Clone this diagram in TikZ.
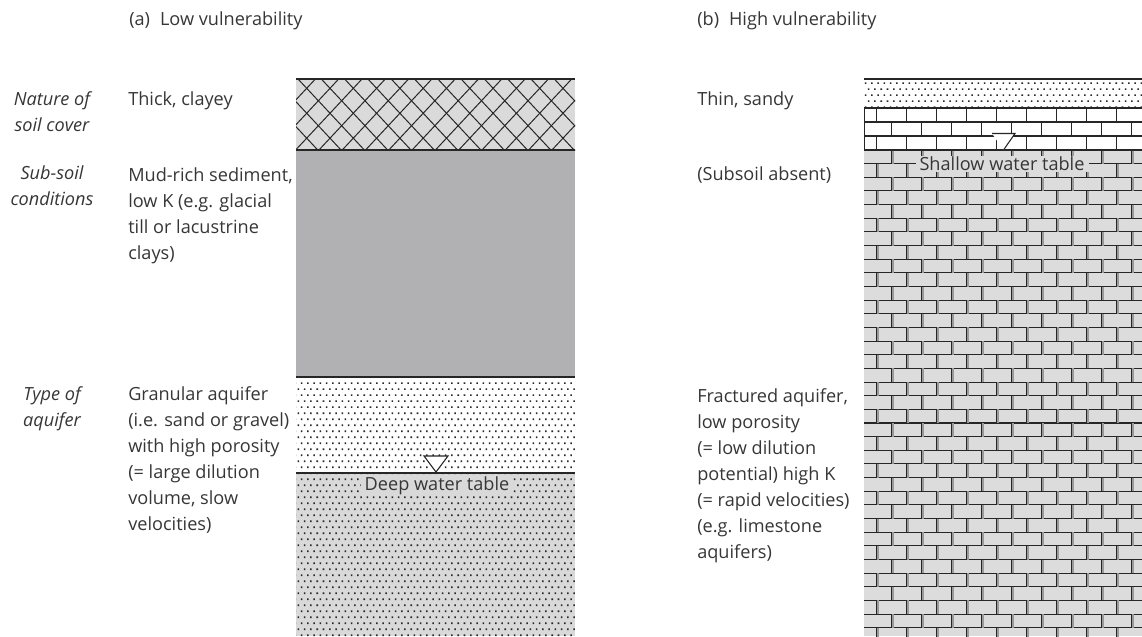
\documentclass[tikz,border=0pt]{standalone}
\usepackage{fontspec}
\setmainfont{Open Sans}
\usetikzlibrary{patterns}

% staggered stipple used for sand layers
\pgfdeclarepatternformonly{sanddots}{\pgfqpoint{-0.5pt}{-0.5pt}}{\pgfqpoint{5.2pt}{9.5pt}}{\pgfqpoint{4.7pt}{9pt}}{%
  \pgfpathrectangle{\pgfqpoint{0pt}{0pt}}{\pgfqpoint{1.15pt}{1.15pt}}%
  \pgfpathrectangle{\pgfqpoint{2.35pt}{4.5pt}}{\pgfqpoint{1.15pt}{1.15pt}}%
  \pgfusepath{fill}}

\definecolor{ink}{HTML}{262626}
\definecolor{txtc}{HTML}{363636}
\definecolor{hatchfill}{HTML}{DADADB}
\definecolor{mud}{HTML}{B1B1B3}
\definecolor{sandgrey}{HTML}{D9D9DA}
\definecolor{brickgrey}{HTML}{DCDCDD}
\definecolor{jointshade}{HTML}{9A9A9A}

% 26 px between baselines
\newcommand\bodyfont{\fontsize{13.6pt}{19.5pt}\selectfont}
\newcommand\lsp{26}

\tikzset{
  body/.style={anchor=base west, align=left, font=\bodyfont, text=txtc, inner sep=0pt},
  rowlabel/.style={anchor=base, align=center, font=\bodyfont\itshape, text=txtc, inner sep=0pt},
  wtlabel/.style={font=\bodyfont, text=txtc, inner xsep=3pt, inner ysep=1pt},
  boundary/.style={draw=ink, line width=1.2pt},
  surface/.style={draw=ink, line width=2pt},
  wtmark/.style={draw=ink, fill=white, line width=0.8pt},
  sand/.style={pattern=sanddots, pattern color=ink},
}

\begin{document}
\begin{tikzpicture}[x=0.75pt, y=-0.75pt]
\useasboundingbox (0,0) rectangle (1142,636);

% ---------- column (a): low vulnerability ----------
% clayey soil cover with cross-hatching
\fill[hatchfill] (296,79) rectangle (575,150);
\begin{scope}
  \clip (296,79) rectangle (575,150);
  \foreach \n in {-5,...,16} {
    \draw[ink, line width=0.75pt] ({306.7+23.3*\n-80},{88.3-85.6}) -- ({306.7+23.3*\n+80},{88.3+85.6});
    \draw[ink, line width=0.75pt] ({306.7+23.3*\n-80},{88.3+85.6}) -- ({306.7+23.3*\n+80},{88.3-85.6});
  }
\end{scope}
% mud-rich subsoil
\fill[mud] (296,150) rectangle (575,377);
% granular aquifer, unsaturated and saturated
\fill[white] (296,377) rectangle (575,473);
\fill[sand] (296,377) rectangle (575,473);
\fill[sandgrey] (296,473) rectangle (575,636);
\fill[sand] (296,473) rectangle (575,636);
\draw[surface] (296,79) -- (575,79);
\draw[boundary] (296,150) -- (575,150);
\draw[boundary] (296,377) -- (575,377);
\draw[boundary] (296,473) -- (575,473);
% deep water table
\draw[wtmark] (424,456) -- (448,456) -- (436,472) -- cycle;
\node[wtlabel, fill=sandgrey] (deepwt) at (437,485.5) {Deep water table};

% ---------- column (b): high vulnerability ----------
\fill[white] (864,79) rectangle (1142,108);
\fill[sand] (864,79) rectangle (1142,108);
\fill[white] (864,108) rectangle (1142,150);
\fill[brickgrey] (864,150) rectangle (1142,636);
\begin{scope}
  \clip (864,108) rectangle (1142,636);
  % limestone above the water table
  \foreach \r in {0,1,2} {
    \pgfmathsetmacro\ytop{108+14*\r}
    \pgfmathsetmacro\xoff{mod(\r,2)==0 ? 876.7 : 861.7}
    \draw[ink, line width=0.8pt] (864,\ytop) -- (1142,\ytop);
    \foreach \k in {0,...,9}
      \draw[ink, line width=0.8pt] ({\xoff+30*\k},\ytop) -- ({\xoff+30*\k},\ytop+14);
  }
  \draw[ink, line width=0.8pt] (864.5,108) -- (864.5,150);
  % saturated limestone
  \foreach \r in {0,...,35} {
    \pgfmathsetmacro\ytop{150+13.65*\r}
    \pgfmathsetmacro\xoff{mod(\r,2)==0 ? 861.7 : 876.7}
    \draw[ink, line width=0.8pt] (864,\ytop+13.65) -- (1142,\ytop+13.65);
    \foreach \k in {0,...,9} {
      \draw[jointshade, line width=0.8pt] ({\xoff+30*\k+1.3},\ytop) -- ({\xoff+30*\k+1.3},\ytop+13.65);
      \draw[ink, line width=0.8pt] ({\xoff+30*\k},\ytop) -- ({\xoff+30*\k},\ytop+13.65);
    }
  }
\end{scope}
\draw[surface] (864,79) -- (1142,79);
\draw[draw=ink, line width=1.5pt] (864,108) -- (1142,108);
\draw[surface] (864,150) -- (1142,150);
% shallow water table
\draw[wtmark] (992,133.5) -- (1015,133.5) -- (1003.5,150);
\node[wtlabel, fill=brickgrey] (shallowwt) at (1002,164) {Shallow water table};

% ---------- headings ----------
\node[body] (titleA) at (129,25) {(a)\hspace{0.55em}Low vulnerability};
\node[body] (titleB) at (697,25) {(b)\hspace{0.55em}High vulnerability};

% ---------- row labels (anchored at the last baseline) ----------
\node[rowlabel] (lblsoil) at (52,{105+\lsp}) {Nature of\\soil cover};
\node[rowlabel] (lblsub) at (52,{179+\lsp}) {Sub-soil\\conditions};
\node[rowlabel] (lblaq) at (52,{400+\lsp}) {Type of\\aquifer};

% ---------- descriptions, column (a) ----------
\node[body] (soilA) at (128,105) {Thick, clayey};
\node[body] (subA) at (128,{181+3*\lsp}) {Mud-rich sediment,\\low K (e.g. glacial\\till or lacustrine\\clays)};
\node[body] (aqA) at (128,{400+5*\lsp}) {Granular aquifer\\(i.e. sand or gravel)\\with high porosity\\(= large dilution\\volume, slow\\velocities)};

% ---------- descriptions, column (b) ----------
\node[body] (soilB) at (697,105) {Thin, sandy};
\node[body] (subB) at (697,180) {(Subsoil absent)};
\node[body] (aqB) at (697,{402+6*\lsp}) {Fractured aquifer,\\low porosity\\(= low dilution\\potential) high K\\(= rapid velocities)\\(e.g. limestone\\aquifers)};
\end{tikzpicture}
\end{document}
